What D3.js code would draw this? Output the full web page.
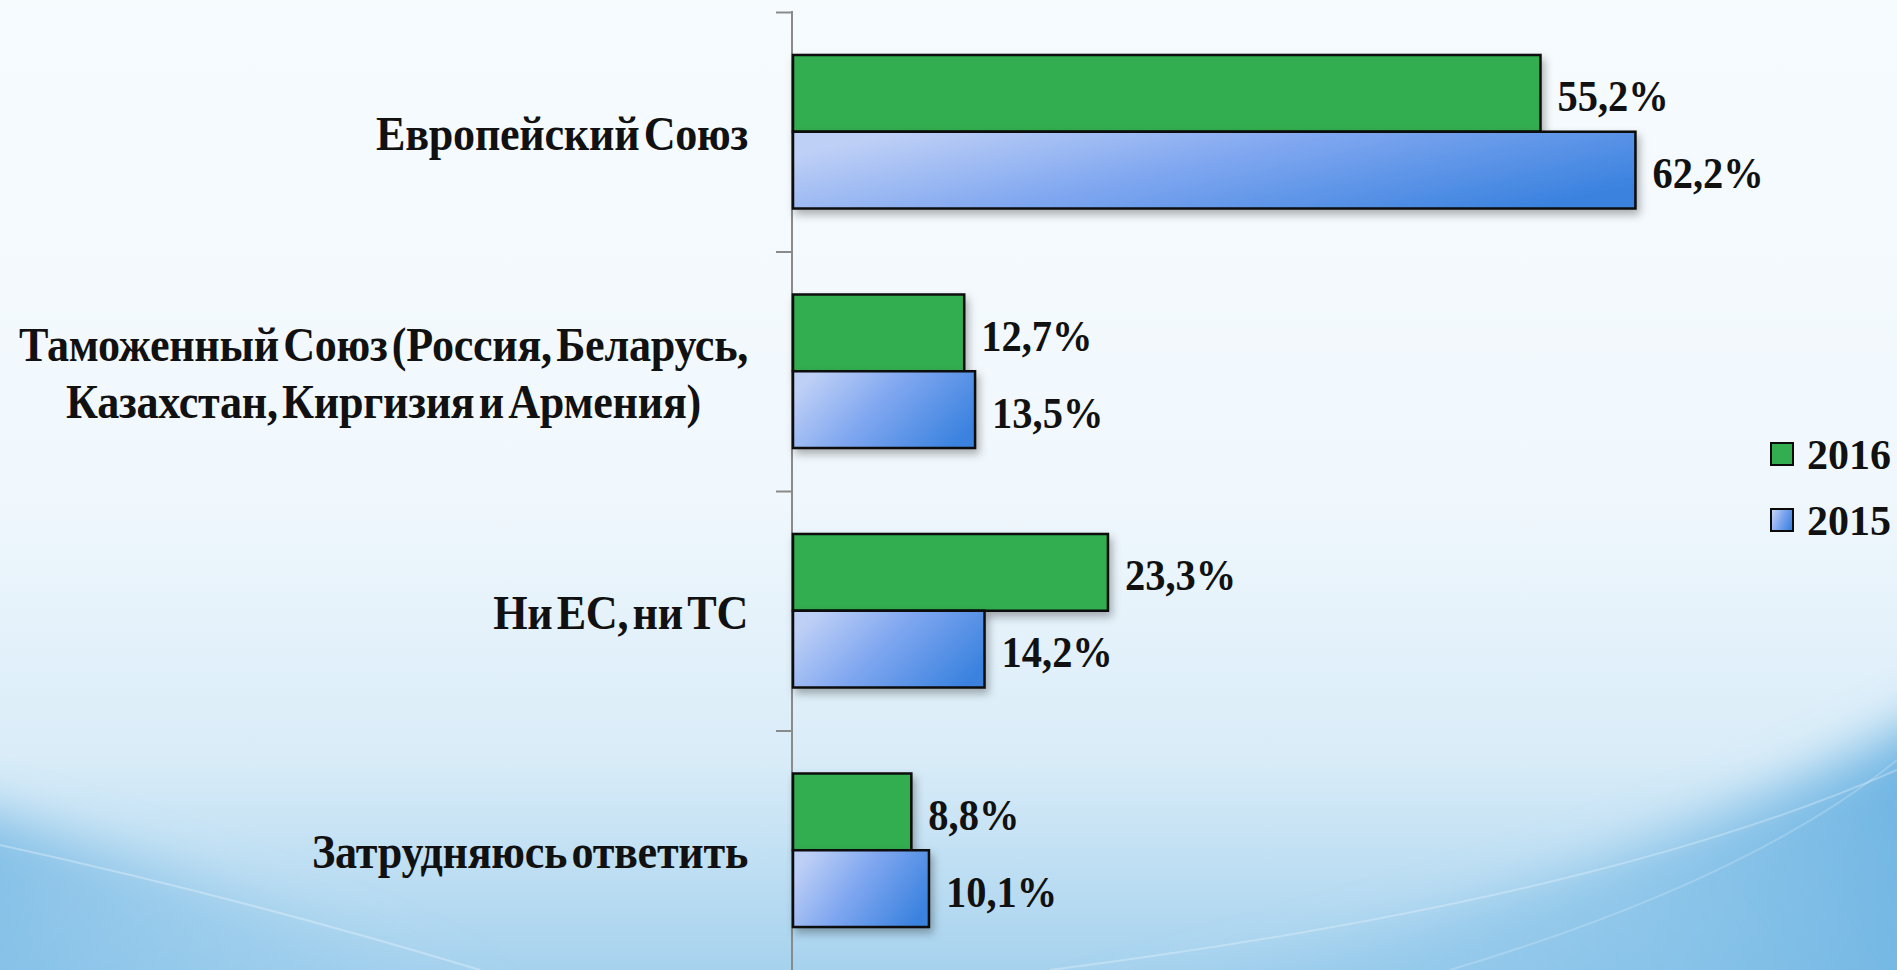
<!DOCTYPE html>
<html>
<head>
<meta charset="utf-8">
<script src="https://cdn.jsdelivr.net/npm/d3@7"></script>
<style>
  html, body { margin: 0; padding: 0; overflow: hidden; }
  svg { display: block; }
  text { font-family: "Liberation Serif", "DejaVu Serif", serif; font-weight: bold; fill: #111; }
</style>
</head>
<body>
<div id="chart"></div>
<script>
var categories = [
  ["Европейский Союз"],
  ["Таможенный Союз (Россия, Беларусь,", "Казахстан, Киргизия и Армения)"],
  ["Ни ЕС, ни ТС"],
  ["Затрудняюсь ответить"]
];
var series = ["2016", "2015"];
var values2016 = [55.2, 12.7, 23.3, 8.8];
var values2015 = [62.2, 13.5, 14.2, 10.1];
var labels2016 = ["55,2%", "12,7%", "23,3%", "8,8%"];
var labels2015 = ["62,2%", "13,5%", "14,2%", "10,1%"];

var width = 1897, height = 970;
var axisX = 792;

var svg = d3.select("#chart").append("svg").attr("width", width).attr("height", height);
var defs = svg.append("defs");

// background
var bg = defs.append("linearGradient").attr("id", "bg").attr("x1", 0).attr("y1", 0).attr("x2", 0).attr("y2", 1);
bg.append("stop").attr("offset", "0").attr("stop-color", "#f6fbfe");
bg.append("stop").attr("offset", "0.5").attr("stop-color", "#f1f8fd");
bg.append("stop").attr("offset", "0.78").attr("stop-color", "#d9ecf8");
bg.append("stop").attr("offset", "1").attr("stop-color", "#a6d2ee");
svg.append("rect").attr("width", width).attr("height", height).attr("fill", "url(#bg)");

// blue waves at the bottom, blurred
defs.append("filter").attr("id", "soft").attr("x", "-20%").attr("y", "-20%").attr("width", "140%").attr("height", "140%")
  .append("feGaussianBlur").attr("stdDeviation", 25);
var waveL = defs.append("linearGradient").attr("id", "waveL").attr("x1", 0).attr("y1", 0).attr("x2", 1).attr("y2", 0.3);
waveL.append("stop").attr("offset", "0").attr("stop-color", "#5aa9de").attr("stop-opacity", 0.7);
waveL.append("stop").attr("offset", "1").attr("stop-color", "#8cc6ea").attr("stop-opacity", 0);
var waveR = defs.append("linearGradient").attr("id", "waveR").attr("x1", 0).attr("y1", 0.2).attr("x2", 1).attr("y2", 0);
waveR.append("stop").attr("offset", "0").attr("stop-color", "#7dbde7").attr("stop-opacity", 0);
waveR.append("stop").attr("offset", "0.6").attr("stop-color", "#6fb6e4").attr("stop-opacity", 0.55);
waveR.append("stop").attr("offset", "1").attr("stop-color", "#4ea3dc").attr("stop-opacity", 0.85);
var waves = svg.append("g").attr("filter", "url(#soft)");
waves.append("path").attr("d", "M -60 800 Q 300 900 620 1040 L -60 1040 Z").attr("fill", "url(#waveL)");
waves.append("path").attr("d", "M 850 1040 Q 1500 950 1960 700 L 1960 1040 Z").attr("fill", "url(#waveR)");
var arcs = svg.append("g").attr("fill", "none").attr("stroke", "#ffffff");
arcs.append("path").attr("d", "M 0 845 Q 250 900 480 970").attr("stroke-opacity", 0.3).attr("stroke-width", 2);
arcs.append("path").attr("d", "M 1050 970 Q 1600 900 1897 770").attr("stroke-opacity", 0.28).attr("stroke-width", 2);
arcs.append("path").attr("d", "M 1450 970 Q 1750 880 1897 760").attr("stroke-opacity", 0.2).attr("stroke-width", 2);

// bar fills
var blue = defs.append("linearGradient").attr("id", "blueGrad").attr("x1", 0).attr("y1", 0.3).attr("x2", 1).attr("y2", 0.7);
blue.append("stop").attr("offset", "0").attr("stop-color", "#bfd0f6");
blue.append("stop").attr("offset", "0.45").attr("stop-color", "#80a7f0");
blue.append("stop").attr("offset", "1").attr("stop-color", "#3a82df");
var shadow = defs.append("filter").attr("id", "shadow").attr("x", "-5%").attr("y", "-20%").attr("width", "115%").attr("height", "150%");
shadow.append("feDropShadow").attr("dx", 3).attr("dy", 5).attr("stdDeviation", 4).attr("flood-color", "#000").attr("flood-opacity", 0.3);

var x = d3.scaleLinear().domain([0, 70]).range([axisX, axisX + 70 * 13.56]);
var y0 = d3.scaleBand().domain(d3.range(categories.length)).range([12, 970]).padding(0);
var y1 = d3.scaleBand().domain(series).range([0, y0.bandwidth()]).paddingInner(0).paddingOuter(0.56);
var fills = { "2016": "#32ad50", "2015": "url(#blueGrad)" };

// axis line and ticks
svg.append("line").attr("x1", axisX).attr("x2", axisX).attr("y1", 11).attr("y2", height)
  .attr("stroke", "#8a8a8a").attr("stroke-width", 2);
svg.selectAll(".tick").data(d3.range(categories.length)).enter().append("line")
  .attr("x1", axisX - 16).attr("x2", axisX)
  .attr("y1", d => y0(d) + 0.5).attr("y2", d => y0(d) + 0.5)
  .attr("stroke", "#8a8a8a").attr("stroke-width", 2);

// bars
var rows = [];
categories.forEach((c, i) => {
  rows.push({ i: i, s: "2016", v: values2016[i], lab: labels2016[i] });
  rows.push({ i: i, s: "2015", v: values2015[i], lab: labels2015[i] });
});

svg.append("g").selectAll("rect").data(rows).enter().append("rect")
  .attr("x", x(0) + 1)
  .attr("y", d => y0(d.i) + y1(d.s))
  .attr("width", d => x(d.v) - x(0) - 1)
  .attr("height", y1.bandwidth())
  .attr("fill", d => fills[d.s])
  .attr("stroke", "#0a0a0a").attr("stroke-width", 2.5)
  .attr("filter", "url(#shadow)");

// value labels
svg.append("g").selectAll("g").data(rows).enter().append("g")
  .attr("transform", d => "translate(" + (x(d.v) + 17) + "," + (y0(d.i) + y1(d.s) + y1.bandwidth() / 2 + 3) + ") scale(0.92,1)")
  .append("text").attr("font-size", 44).attr("dominant-baseline", "central").text(d => d.lab);

// category labels
var labelRight = 748, lineGap = 57;
categories.forEach((lines, i) => {
  var g = svg.append("g").attr("transform", "translate(" + labelRight + "," + (y0(i) + y0.bandwidth() / 2 + 2) + ") scale(0.92,1)");
  var t = g.selectAll("text").data(lines).enter().append("text")
    .attr("font-size", 48).attr("word-spacing", -7).attr("letter-spacing", -0.3)
    .attr("text-anchor", "middle").attr("dominant-baseline", "central")
    .attr("y", (d, k) => (k - (lines.length - 1) / 2) * lineGap)
    .text(d => d);
  var maxW = d3.max(t.nodes(), n => n.getComputedTextLength());
  t.attr("x", -maxW / 2);
});

// legend
var legend = svg.append("g").selectAll("g").data(series).enter().append("g")
  .attr("transform", (d, k) => "translate(1771," + (443 + k * 66) + ")");
legend.append("rect").attr("width", 22).attr("height", 22)
  .attr("fill", d => fills[d]).attr("stroke", "#0a0a0a").attr("stroke-width", 2);
legend.append("text").attr("x", 36).attr("y", 12).attr("font-size", 42)
  .attr("dominant-baseline", "central").text(d => d);
</script>
</body>
</html>
